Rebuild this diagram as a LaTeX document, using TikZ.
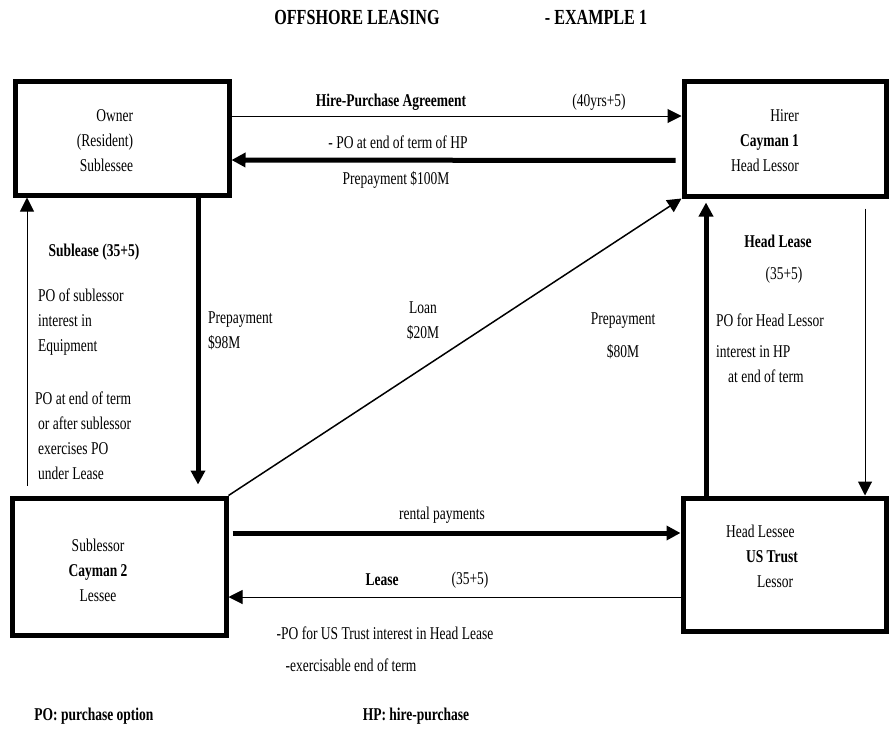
\documentclass[tikz,border=0pt]{standalone}
\usepackage{fontspec}
\setmainfont{Liberation Serif}[FakeStretch=0.75]
\usetikzlibrary{arrows.meta}

\begin{document}
\begin{tikzpicture}[x=1pt,y=-1pt,>={Triangle[length=14pt,width=14pt]},
    every node/.style={font=\fontsize{18}{25}\selectfont,inner sep=0pt},
    box/.style={draw,line width=5pt},
    thinarr/.style={->,line width=1pt},
    thickarr/.style={->,line width=5pt},
    bold/.style={font=\fontsize{18}{25}\selectfont\bfseries},
    heading/.style={font=\fontsize{21.5}{25}\selectfont\bfseries}]
  \useasboundingbox (0,0) rectangle (891,734);

  % title
  \node[heading] (title) at (357,17) {OFFSHORE LEASING};
  \node[heading] (example) at (596,17) {- EXAMPLE 1};

  % the four parties
  \node[box,minimum width=214pt,minimum height=114pt] (owner) at (122,138) {};
  \node[box,minimum width=202pt,minimum height=115pt] (hirer) at (785,138.5) {};
  \node[box,minimum width=214pt,minimum height=137pt] (sublessor) at (119,566.5) {};
  \node[box,minimum width=203pt,minimum height=133pt] (headlessee) at (784.5,564.5) {};

  \node[align=right] (ownertxt) at (105,141) {Owner\\(Resident)\\Sublessee};
  \node[align=right] (hirertxt) at (765,141) {Hirer\\\textbf{Cayman 1}\\Head Lessor};
  \node[align=center] (sublessortxt) at (98,570) {Sublessor\\\textbf{Cayman 2}\\Lessee};
  \node[align=left] (headlesseetxt) at (762,556) {Head Lessee\\\hspace{20pt}\textbf{US Trust}\\\hspace{31pt}Lessor};

  \coordinate (xa) at (27,0);
  \coordinate (xb) at (198,0);
  \coordinate (xc) at (706,0);
  \coordinate (xd) at (865,0);

  % connectors
  \draw[thinarr] ([yshift=22pt]owner.east) -- ([yshift=22.5pt]hirer.west);
  \draw[thickarr,shorten <=6pt] ([yshift=-22pt]hirer.west) -- ([yshift=-22pt]owner.east);
  \draw[thinarr,shorten <=10pt] (sublessor.north -| xa) -- (owner.south -| xa);
  \draw[thickarr,shorten >=11pt] (owner.south -| xb) -- (sublessor.north -| xb);
  \draw[thickarr,shorten >=4pt] (headlessee.north -| xc) -- (hirer.south -| xc);
  \draw[thinarr,shorten <=10pt] (hirer.south -| xd) -- (headlessee.north -| xd);
  \draw[->,line width=1.5pt] (sublessor.north east) -- (hirer.south west);
  \draw[thickarr,shorten <=4pt] ([yshift=33.5pt]sublessor.east) -- ([yshift=31.5pt]headlessee.west);
  \draw[thinarr] ([yshift=-32.5pt]headlessee.west) -- ([yshift=-30.5pt]sublessor.east);

  % labels
  \node[bold] (hpa) at (391,102) {Hire-Purchase Agreement};
  \node (hpterm) at (599,102) {(40yrs+5)};
  \node (poend) at (398,142) {- PO at end of term of HP};
  \node (prep100) at (396,180) {Prepayment \$100M};

  \node[bold] (sublease) at (94,252) {Sublease (35+5)};
  \node[align=left,anchor=west] (posub) at (38,322) {PO of sublessor\\interest in\\Equipment};
  \node[align=left,anchor=west] (poafter) at (35,436) {PO at end of term\\\hspace{3pt}or after sublessor\\\hspace{3pt}exercises PO\\\hspace{3pt}under Lease};
  \node[align=left,anchor=west] (prep98) at (208,331) {Prepayment\\\$98M};

  \node[align=center] (loan) at (423,321) {Loan\\\$20M};
  \node[align=center] (prep80) at (623,336) {Prepayment\\[8pt]\$80M};

  \node[bold] (headlease) at (778,241) {Head Lease};
  \node (hlterm) at (784,275) {(35+5)};
  \node[anchor=west] (pohead) at (716,320) {PO for Head Lessor};
  \node[align=left,anchor=west] (pohp) at (716,364) {interest in HP\\\hspace{12pt}at end of term};

  \node (rental) at (442,515) {rental payments};
  \node[bold] (lease) at (382,580) {Lease};
  \node (leaseterm) at (470,580) {(35+5)};
  \node (poust) at (385,633) {-PO for US Trust interest in Head Lease};
  \node (exer) at (351,665) {-exercisable end of term};

  % legend
  \node[bold] (legpo) at (94,716) {PO: purchase option};
  \node[bold] (leghp) at (416,716) {HP: hire-purchase};
\end{tikzpicture}
\end{document}
